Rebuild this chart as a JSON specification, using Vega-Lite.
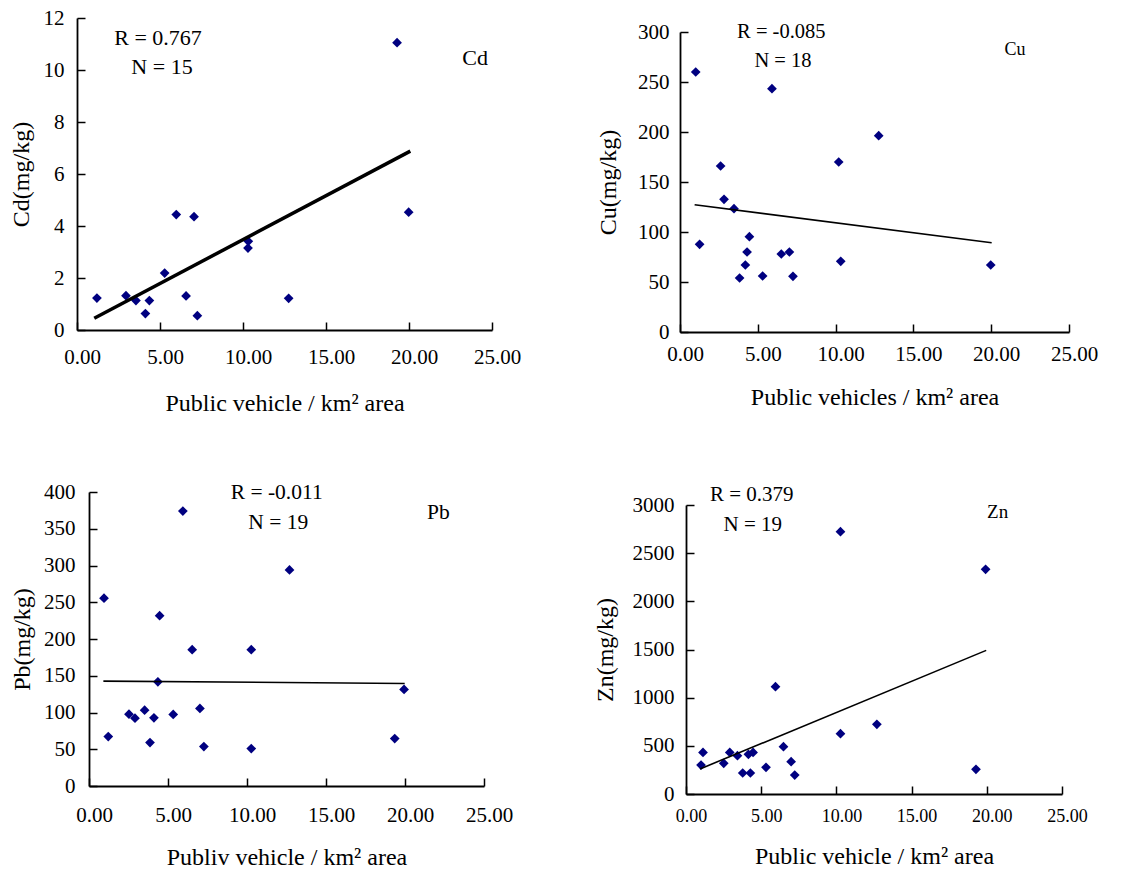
{
  "$schema": "https://vega.github.io/schema/vega-lite/v6.json",
  "background": "white",
  "padding": {"left": 9, "top": 7, "right": 5, "bottom": 5},
  "config": {
    "view": {"stroke": null},
    "font": "Liberation Serif",
    "axis": {"grid": false, "domainColor": "black", "domainWidth": 1.8, "tickColor": "black", "tickWidth": 1.5, "tickSize": -8, "tickCount": 20, "labelColor": "black", "labelFont": "Liberation Serif", "labelFontSize": 21, "labelFlush": false, "labelOverlap": false, "labelBound": false, "titleFont": "Liberation Serif", "titleFontSize": 24, "titleFontWeight": "normal", "titleColor": "black"}
  },
  "columns": 2,
  "bounds": "flush",
  "spacing": {"row": 160, "column": 188},
  "concat": [
    {
      "width": 415, "height": 312,
      "layer": [
        {
          "data": {"values": [
            {"x": 1.20, "y": 1.23}, {"x": 2.95, "y": 1.32}, {"x": 3.55, "y": 1.13}, {"x": 4.12, "y": 0.63}, {"x": 4.36, "y": 1.13},
            {"x": 5.28, "y": 2.19}, {"x": 5.98, "y": 4.44}, {"x": 6.57, "y": 1.31}, {"x": 7.05, "y": 4.36}, {"x": 7.25, "y": 0.55},
            {"x": 10.32, "y": 3.41}, {"x": 10.30, "y": 3.15}, {"x": 12.75, "y": 1.22}, {"x": 19.28, "y": 11.05}, {"x": 19.98, "y": 4.53}
          ]},
          "mark": {"type": "point", "shape": "diamond", "filled": true, "color": "#000080", "opacity": 1, "size": 95},
          "encoding": {
            "x": {"field": "x", "type": "quantitative", "scale": {"domain": [0, 25], "nice": false},
                  "axis": {"title": "Public vehicle / km² area", "values": [0, 5, 10, 15, 20, 25], "tickCount": 20, "format": ".2f", "labelOffset": 5, "labelOverlap": false, "labelPadding": 24, "titlePadding": 24}},
            "y": {"field": "y", "type": "quantitative", "scale": {"domain": [0, 12], "nice": false},
                  "axis": {"title": "Cd(mg/kg)", "values": [0, 2, 4, 6, 8, 10, 12], "tickCount": 20, "format": "d", "labelOverlap": false, "labelPadding": 21, "titlePadding": 10}}
          }
        },
        {
          "data": {"values": [{"x": 1.04, "y": 0.45}, {"x": 20.08, "y": 6.88}]},
          "mark": {"type": "line", "color": "black", "strokeWidth": 3.5},
          "encoding": {"x": {"field": "x", "type": "quantitative"}, "y": {"field": "y", "type": "quantitative"}}
        },
        {
          "data": {"values": [{"x": 4.88, "y": 11.23, "t": "R = 0.767"}, {"x": 5.12, "y": 10.12, "t": "N = 15"}]},
          "mark": {"type": "text", "fontSize": 22, "font": "Liberation Serif", "color": "black"},
          "encoding": {"x": {"field": "x", "type": "quantitative"}, "y": {"field": "y", "type": "quantitative"}, "text": {"field": "t"}}
        },
        {
          "data": {"values": [{"x": 23.98, "y": 10.46, "t": "Cd"}]},
          "mark": {"type": "text", "fontSize": 22, "font": "Liberation Serif", "color": "black"},
          "encoding": {"x": {"field": "x", "type": "quantitative"}, "y": {"field": "y", "type": "quantitative"}, "text": {"field": "t"}}
        }
      ]
    },
    {
      "width": 389, "height": 314,
      "layer": [
        {
          "data": {"values": [
            {"x": 1.01, "y": 260}, {"x": 1.26, "y": 87.7}, {"x": 2.61, "y": 166}, {"x": 2.83, "y": 132.7}, {"x": 3.47, "y": 123.3},
            {"x": 3.83, "y": 54}, {"x": 4.20, "y": 67}, {"x": 4.31, "y": 80}, {"x": 4.46, "y": 95.3}, {"x": 5.31, "y": 56},
            {"x": 5.91, "y": 243.3}, {"x": 6.51, "y": 78}, {"x": 7.03, "y": 80}, {"x": 7.26, "y": 55.7}, {"x": 10.20, "y": 170},
            {"x": 10.33, "y": 70.7}, {"x": 12.77, "y": 196.3}, {"x": 19.97, "y": 67}
          ]},
          "mark": {"type": "point", "shape": "diamond", "filled": true, "color": "#000080", "opacity": 1, "size": 95},
          "encoding": {
            "x": {"field": "x", "type": "quantitative", "scale": {"domain": [0, 25], "nice": false},
                  "axis": {"title": "Public vehicles / km² area", "values": [0, 5, 10, 15, 20, 25], "tickCount": 20, "format": ".2f", "labelOffset": 5, "labelOverlap": false, "labelPadding": 19, "titlePadding": 21}},
            "y": {"field": "y", "type": "quantitative", "scale": {"domain": [0, 300], "nice": false, "range": [314, 14]},
                  "axis": {"title": "Cu(mg/kg)", "values": [0, 50, 100, 150, 200, 250, 300], "tickCount": 20, "format": "d", "labelOverlap": false, "labelPadding": 19, "titlePadding": 17}}
          }
        },
        {
          "data": {"values": [{"x": 0.94, "y": 127.3}, {"x": 20.03, "y": 89.3}]},
          "mark": {"type": "line", "color": "black", "strokeWidth": 1.6},
          "encoding": {"x": {"field": "x", "type": "quantitative"}, "y": {"field": "y", "type": "quantitative"}}
        },
        {
          "data": {"values": [{"x": 6.51, "y": 299.7, "t": "R = -0.085"}, {"x": 6.62, "y": 270.7, "t": "N = 18"}]},
          "mark": {"type": "text", "fontSize": 20.5, "font": "Liberation Serif", "color": "black"},
          "encoding": {"x": {"field": "x", "type": "quantitative"}, "y": {"field": "y", "type": "quantitative"}, "text": {"field": "t"}}
        },
        {
          "data": {"values": [{"x": 21.53, "y": 282.3, "t": "Cu"}]},
          "mark": {"type": "text", "fontSize": 18, "font": "Liberation Serif", "color": "black"},
          "encoding": {"x": {"field": "x", "type": "quantitative"}, "y": {"field": "y", "type": "quantitative"}, "text": {"field": "t"}}
        }
      ]
    },
    {
      "width": 407, "height": 294,
      "layer": [
        {
          "data": {"values": [
            {"x": 0.95, "y": 255.5}, {"x": 1.22, "y": 67.3}, {"x": 2.53, "y": 97.7}, {"x": 2.91, "y": 92.3}, {"x": 3.52, "y": 103.2},
            {"x": 3.86, "y": 59.1}, {"x": 4.11, "y": 92.7}, {"x": 4.36, "y": 141.8}, {"x": 4.47, "y": 231.8}, {"x": 5.33, "y": 97.3},
            {"x": 5.94, "y": 374}, {"x": 6.53, "y": 185.5}, {"x": 7.02, "y": 105.5}, {"x": 7.27, "y": 53.6}, {"x": 10.27, "y": 185.5},
            {"x": 10.27, "y": 50.9}, {"x": 12.69, "y": 294}, {"x": 19.35, "y": 64.5}, {"x": 19.94, "y": 131.4}
          ]},
          "mark": {"type": "point", "shape": "diamond", "filled": true, "color": "#000080", "opacity": 1, "size": 95},
          "encoding": {
            "x": {"field": "x", "type": "quantitative", "scale": {"domain": [0, 25], "nice": false, "range": [12, 407]},
                  "axis": {"title": "Publiv vehicle / km²  area", "values": [0, 5, 10, 15, 20, 25], "tickCount": 20, "format": ".2f", "labelOffset": 5, "labelOverlap": false, "labelPadding": 26, "titlePadding": 20}},
            "y": {"field": "y", "type": "quantitative", "scale": {"domain": [0, 400], "nice": false},
                  "axis": {"title": "Pb(mg/kg)", "values": [0, 50, 100, 150, 200, 250, 300, 350, 400], "tickCount": 20, "format": "d", "labelOverlap": false, "offset": -12, "labelPadding": 22, "titlePadding": 9}}
          }
        },
        {
          "data": {"values": [{"x": 0.91, "y": 142.7}, {"x": 19.98, "y": 139.5}]},
          "mark": {"type": "line", "color": "black", "strokeWidth": 1.6},
          "encoding": {"x": {"field": "x", "type": "quantitative"}, "y": {"field": "y", "type": "quantitative"}}
        },
        {
          "data": {"values": [{"x": 11.88, "y": 398, "t": "R = -0.011"}, {"x": 11.98, "y": 358, "t": "N = 19"}]},
          "mark": {"type": "text", "fontSize": 21.5, "font": "Liberation Serif", "color": "black"},
          "encoding": {"x": {"field": "x", "type": "quantitative"}, "y": {"field": "y", "type": "quantitative"}, "text": {"field": "t"}}
        },
        {
          "data": {"values": [{"x": 22.11, "y": 372, "t": "Pb"}]},
          "mark": {"type": "text", "fontSize": 21.5, "font": "Liberation Serif", "color": "black"},
          "encoding": {"x": {"field": "x", "type": "quantitative"}, "y": {"field": "y", "type": "quantitative"}, "text": {"field": "t"}}
        }
      ]
    },
    {
      "width": 382, "height": 302,
      "layer": [
        {
          "data": {"values": [
            {"x": 1.00, "y": 301}, {"x": 1.13, "y": 432}, {"x": 2.51, "y": 318}, {"x": 2.91, "y": 432}, {"x": 3.42, "y": 398},
            {"x": 3.77, "y": 218}, {"x": 4.15, "y": 412}, {"x": 4.28, "y": 218}, {"x": 4.46, "y": 432}, {"x": 5.32, "y": 277},
            {"x": 5.95, "y": 1114}, {"x": 6.48, "y": 491}, {"x": 6.99, "y": 336}, {"x": 7.23, "y": 197}, {"x": 10.27, "y": 2723},
            {"x": 10.27, "y": 626}, {"x": 12.69, "y": 723}, {"x": 19.28, "y": 256}, {"x": 19.92, "y": 2332}
          ]},
          "mark": {"type": "point", "shape": "diamond", "filled": true, "color": "#000080", "opacity": 1, "size": 95},
          "encoding": {
            "x": {"field": "x", "type": "quantitative", "scale": {"domain": [0, 25], "nice": false, "range": [6, 382]},
                  "axis": {"title": "Public vehicle / km²   area", "values": [0, 5, 10, 15, 20, 25], "tickCount": 20, "format": ".2f", "labelOffset": 5, "labelOverlap": false, "labelFontSize": 18, "labelPadding": 21, "titlePadding": 19}},
            "y": {"field": "y", "type": "quantitative", "scale": {"domain": [0, 3000], "nice": false, "range": [302, 13]},
                  "axis": {"title": "Zn(mg/kg)", "values": [0, 500, 1000, 1500, 2000, 2500, 3000], "tickCount": 20, "format": "d", "labelOverlap": false, "offset": -6, "labelPadding": 20, "titlePadding": 15}}
          }
        },
        {
          "data": {"values": [{"x": 0.93, "y": 260}, {"x": 19.96, "y": 1491}]},
          "mark": {"type": "line", "color": "black", "strokeWidth": 1.6},
          "encoding": {"x": {"field": "x", "type": "quantitative"}, "y": {"field": "y", "type": "quantitative"}}
        },
        {
          "data": {"values": [{"x": 4.37, "y": 3104, "t": "R = 0.379"}, {"x": 4.44, "y": 2793, "t": "N = 19"}]},
          "mark": {"type": "text", "fontSize": 21, "font": "Liberation Serif", "color": "black"},
          "encoding": {"x": {"field": "x", "type": "quantitative"}, "y": {"field": "y", "type": "quantitative"}, "text": {"field": "t"}}
        },
        {
          "data": {"values": [{"x": 20.72, "y": 2925, "t": "Zn"}]},
          "mark": {"type": "text", "fontSize": 19, "font": "Liberation Serif", "color": "black"},
          "encoding": {"x": {"field": "x", "type": "quantitative"}, "y": {"field": "y", "type": "quantitative"}, "text": {"field": "t"}}
        }
      ]
    }
  ]
}
